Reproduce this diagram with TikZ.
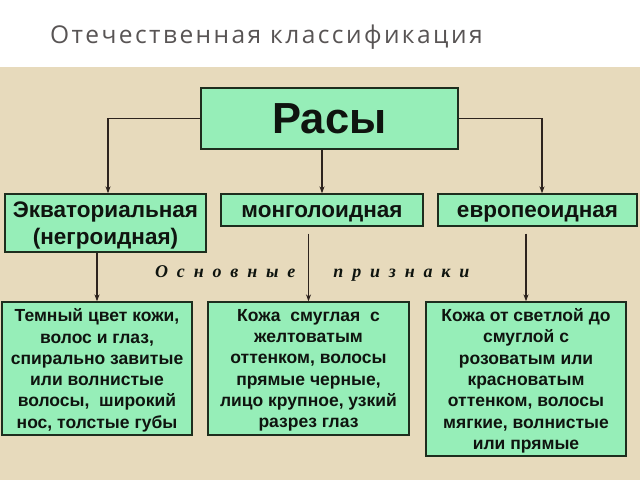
\documentclass[tikz,border=0pt]{standalone}
\usepackage{fontspec}
\setmainfont{Liberation Sans}
\newfontfamily\titlefont[LetterSpace=10]{Open Sans}
\newfontfamily\signfont{Liberation Serif}
\usetikzlibrary{arrows.meta,positioning}
\definecolor{ink}{RGB}{15,20,15}
\definecolor{paper}{RGB}{231,218,188}
\definecolor{mint}{RGB}{150,238,184}
\definecolor{boxline}{RGB}{30,45,30}
\definecolor{titlegray}{RGB}{88,84,84}
\definecolor{wirecol}{RGB}{45,35,30}

\begin{document}
\begin{tikzpicture}[x=1pt,y=-1pt,
    racebox/.style={draw=boxline,fill=mint,line width=1.3pt,inner sep=0pt,
      align=center,text=ink,text depth=0pt},
    namebox/.style={racebox,minimum height=32pt,text height=14pt,
      font=\fontsize{22.5}{27}\selectfont\bfseries},
    signbox/.style={racebox,minimum height=133pt,
      font=\fontsize{17.5}{21.3}\selectfont\bfseries},
    link/.style={draw=wirecol,line width=1.1pt,
      -{Stealth[length=7pt,width=5pt]}}]
    \useasboundingbox (0,0) rectangle (640,480);
    \fill[white] (0,0) rectangle (640,67);
    \fill[paper] (0,67) rectangle (640,480);
    \node[anchor=west,inner sep=0pt,text=titlegray] (title) at (50,37)
      {\titlefont\fontsize{24.5}{30}\selectfont Отечественная классификация};
    \node[racebox,minimum width=257pt,minimum height=61pt] (rasy)
      at (329.5,118.5) {\fontsize{43.5}{48}\selectfont\bfseries Расы};
    \node[racebox,minimum width=201pt,minimum height=58pt,
      font=\fontsize{22.5}{27}\selectfont\bfseries] (ekv) at (105.5,223)
      {Экваториальная\\(негроидная)};
    \node[namebox,minimum width=202pt] (mong) at (322,210) {монголоидная};
    \node[namebox,minimum width=199pt] (evro) at (537.5,210) {европеоидная};
    \node[anchor=west,inner sep=0pt,text=ink] (signs) at (155,273)
      {\signfont\fontsize{18}{20}\selectfont\bfseries\itshape
        \addfontfeature{LetterSpace=49}Основные\hspace{38pt}признаки};
    \node[signbox,minimum width=190pt] (ekvsign) at (97,368.5)
      {Темный цвет кожи,\\волос и глаз,\\спирально завитые\\
        или волнистые\\волосы,\ \ широкий\\нос, толстые губы};
    \node[signbox,minimum width=201pt] (mongsign) at (308.5,368.5)
      {Кожа\ \ смуглая\ \ с\\желтоватым\\оттенком, волосы\\
        прямые черные,\\лицо крупное, узкий\\разрез глаз};
    \node[signbox,minimum width=200pt,minimum height=154pt] (evrosign)
      at (526,379)
      {Кожа от светлой до\\смуглой с\\розоватым или\\красноватым\\
        оттенком, волосы\\мягкие, волнистые\\или прямые};
    \draw[link] (rasy.west) -| ([xshift=2.5pt]ekv.north);
    \draw[link] (rasy.east) -| ([xshift=4.5pt]evro.north);
    \draw[link] (rasy.south -| mong.north) -- (mong.north);
    \draw[link] (ekv.south -| ekvsign.north) -- (ekvsign.north);
    \draw[link] ([yshift=-7pt]mong.south -| mongsign.north)
      -- (mongsign.north);
    \draw[link] ([yshift=-7pt]evro.south -| evrosign.north)
      -- (evrosign.north);
  \end{tikzpicture}
\end{document}
